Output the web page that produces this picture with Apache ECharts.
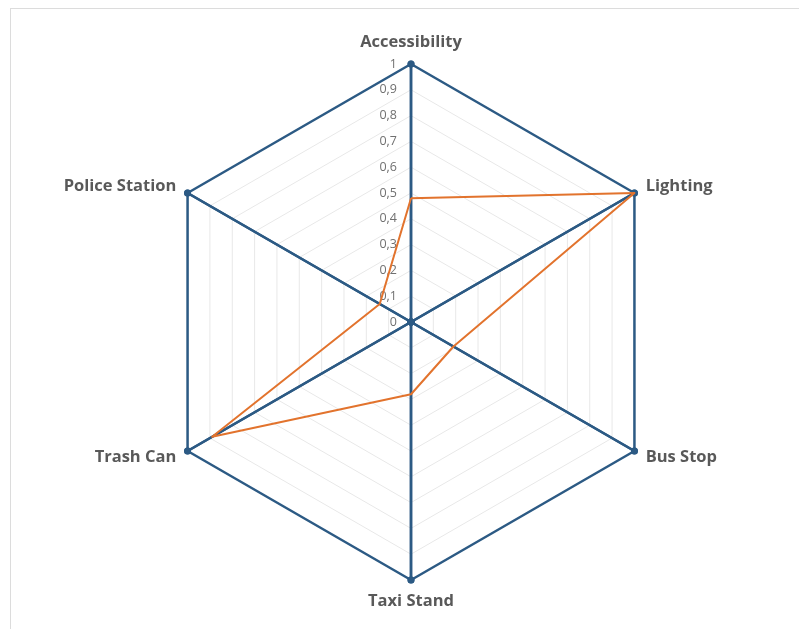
<!DOCTYPE html>
<html>
<head>
<meta charset="utf-8">
<script src="https://cdn.jsdelivr.net/npm/echarts@6/dist/echarts.min.js"></script>
<style>
  html, body { margin: 0; padding: 0; background: #fff; }
  #frame { position: absolute; left: 10px; top: 8px; width: 900px; height: 700px;
           border-left: 1px solid #dcdcdc; border-top: 1px solid #dcdcdc; }
  #main { position: absolute; left: 0; top: 0; width: 799px; height: 629px; }
</style>
</head>
<body>
<div id="frame"></div>
<div id="main"></div>
<script>
// indicators in ECharts order (counter-clockwise from top)
const indicatorNames = ["Accessibility", "Police Station", "Trash Can", "Taxi Stand", "Bus Stop", "Lighting"];
// blue frame series
const blueA = [1, 0, 1, 1, 0, 1];
const blueB = [0, 1, 1, 0, 1, 1];
const blueC = [1, 1, 0, 1, 1, 0];
// orange series
const orangeValues = [0.48, 0.14, 0.89, 0.28, 0.19, 1];

const blue = "#2c5a84";
const orange = "#e2732d";

const myChart = echarts.init(document.getElementById("main"));

const indicator = indicatorNames.map(function (n, i) {
  const o = { name: n, min: 0, max: 1 };
  if (i === 0) o.axisLabel = { show: true };
  return o;
});

function blueSeries(vals) {
  return {
    type: "radar",
    symbol: "circle",
    symbolSize: 7,
    itemStyle: { color: blue },
    lineStyle: { color: blue, width: 2.5 },
    data: [{ value: vals }],
    silent: true
  };
}

const option = {
  animation: false,
  radar: {
    center: [411, 322],
    radius: 258,
    startAngle: 90,
    splitNumber: 10,
    indicator: indicator,
    axisName: {
      color: "#595959",
      fontFamily: "Open Sans",
      fontWeight: "bold",
      fontSize: 16.5
    },
    nameGap: 13,
    axisLine: { lineStyle: { color: "#e8e8e8" } },
    splitLine: { lineStyle: { color: "#e8e8e8", width: 1 } },
    splitArea: { show: false },
    axisTick: { show: false },
    axisLabel: {
      show: false,
      color: "#707070",
      fontFamily: "Open Sans",
      fontSize: 12.5,
      margin: 14,
      formatter: function (v) { return String(Math.round(v * 10) / 10).replace(".", ","); }
    }
  },
  series: [
    blueSeries(blueA),
    blueSeries(blueB),
    blueSeries(blueC),
    {
      type: "radar",
      symbol: "none",
      lineStyle: { color: orange, width: 2 },
      itemStyle: { color: orange },
      data: [{ value: orangeValues }],
      silent: true,
      z: 3
    }
  ]
};

myChart.setOption(option);
</script>
</body>
</html>
